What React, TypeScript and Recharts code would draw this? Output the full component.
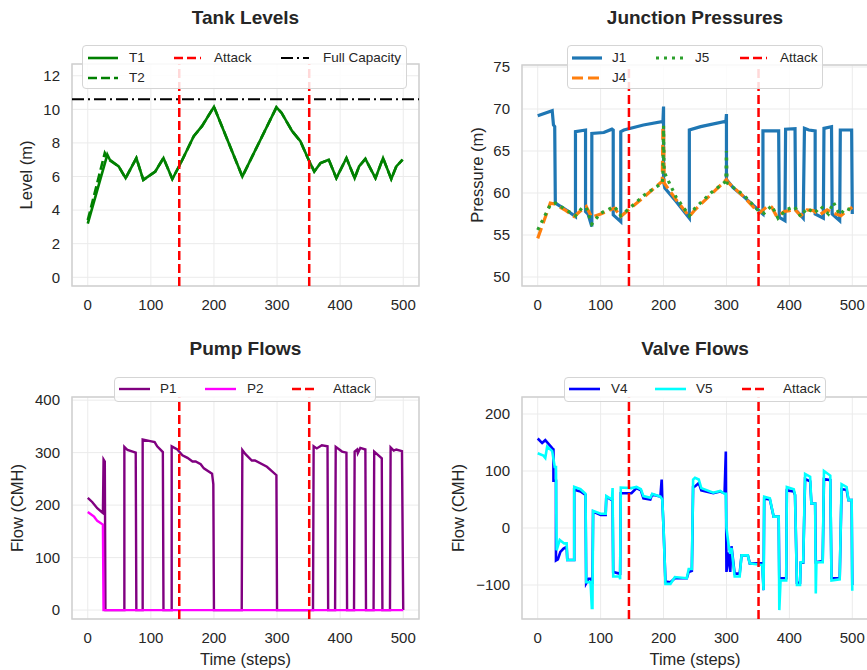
import React from "react";
import { LineChart, Line, XAxis, YAxis, CartesianGrid, ReferenceLine, ReferenceArea } from "recharts";

// time axis
const timeTicks = [0, 100, 200, 300, 400, 500];
const attackStart = 145;
const attackEnd = 351;
const fullCapacity = 10.6;

// tank levels [step, m]
const tankT1 = [
  [0, 3.2], [31, 7.3], [35, 7.0], [49, 6.6], [60, 5.9], [77, 7.1], [88, 5.8], [107, 6.3], [120, 7.1],
  [134, 5.85], [146, 6.7], [168, 8.4], [181, 9.0], [200, 10.15], [245, 6.0], [299, 10.12], [307, 9.8],
  [324, 8.7], [337, 8.1], [350, 7.0], [359, 6.3], [369, 6.8], [382, 7.0], [394, 5.9], [410, 7.1],
  [423, 5.9], [430, 6.6], [440, 7.05], [456, 5.9], [468, 7.1], [481, 5.85], [489, 6.6], [499, 7.0],
];
const tankT2 = [
  [0, 3.4], [27, 7.4], [33, 7.0], [49, 6.6], [60, 5.9], [77, 7.1], [88, 5.8], [107, 6.3], [120, 7.1],
  [134, 5.85], [146, 6.7], [168, 8.4], [181, 9.0], [200, 10.15], [245, 6.0], [299, 10.12], [307, 9.8],
  [324, 8.7], [337, 8.1], [350, 7.0], [359, 6.3], [369, 6.8], [382, 7.0], [394, 5.9], [410, 7.1],
  [423, 5.9], [430, 6.6], [440, 7.05], [456, 5.9], [468, 7.1], [481, 5.85], [489, 6.6], [499, 7.0],
];
const tankTicks = [0, 2, 4, 6, 8, 10, 12];

// junction pressures [step, m]
const juncJ1 = [
  [0, 69.2], [23, 69.8], [25, 68.1], [27, 67.9], [28, 58.8], [45, 58.0], [60, 57.2], [60, 67.3], [76, 67.5],
  [76, 57.8], [80, 57.5], [86, 56.0], [86, 67.1], [105, 67.2], [118, 67.6], [120, 67.5], [120, 57.4],
  [132, 56.6], [132, 67.3], [137, 67.5], [168, 68.1], [197, 68.5], [199, 68.4], [200, 70.3], [200, 61.4],
  [202, 60.6], [220, 59.0], [241, 57.0], [241, 67.5], [259, 67.9], [296, 68.5], [299, 68.4], [300, 69.4],
  [300, 61.6], [311, 60.6], [327, 59.6], [358, 57.5], [358, 67.4], [383, 67.4], [384, 57.1], [393, 56.7],
  [394, 67.6], [409, 67.65], [410, 58.0], [422, 57.0], [424, 67.7], [431, 67.5], [441, 67.4], [441, 57.5],
  [454, 57.0], [455, 67.7], [467, 67.9], [468, 57.5], [480, 56.7], [481, 67.5], [499, 67.5], [500, 57.5],
];
const juncJ4 = [
  [0, 54.6], [20, 58.8], [27, 58.7], [45, 57.9], [58, 57.2], [70, 58.0], [77, 58.4], [86, 57.1], [100, 57.5],
  [122, 58.2], [132, 57.2], [146, 58.1], [170, 59.6], [198, 61.4], [199, 67.8], [200, 67.8], [201, 61.2],
  [220, 59.2], [241, 57.2], [250, 58.0], [275, 59.8], [300, 61.6], [302, 61.3], [327, 59.6], [352, 57.6],
  [365, 58.4], [372, 58.3], [380, 57.2], [392, 57.8], [400, 57.9], [408, 58.1], [418, 57.3], [428, 58.0],
  [438, 57.9], [448, 57.4], [460, 58.0], [470, 57.6], [482, 57.3], [490, 57.8], [500, 58.3],
];
const juncJ5 = [
  [0, 55.6], [20, 58.6], [28, 58.8], [45, 58.0], [60, 57.3], [70, 58.2], [77, 58.3], [86, 56.3], [100, 57.6],
  [122, 58.4], [132, 57.3], [146, 58.2], [170, 59.8], [198, 61.2], [199, 62.0], [200, 68.0], [201, 62.5],
  [220, 59.5], [241, 57.3], [250, 58.2], [275, 60.0], [299, 61.4], [300, 65.0], [301, 61.2], [327, 59.8],
  [352, 57.8], [360, 57.6], [372, 58.5], [382, 57.0], [395, 58.0], [408, 58.4], [418, 57.2], [428, 58.2],
  [440, 57.6], [450, 58.4], [462, 57.5], [470, 58.9], [480, 57.4], [490, 58.2], [500, 57.9],
];
const pressureTicks = [50, 55, 60, 65, 70, 75];

// pump flows [step, CMH]
const pumpP1 = [
  [0, 214], [7, 206], [15, 194], [23, 186], [24, 185], [25, 287], [27, 283], [28, 0], [58, 0], [58, 311],
  [63, 305], [76, 300], [77, 0], [87, 0], [87, 325], [99, 322], [106, 320], [110, 312], [119, 301], [120, 0],
  [133, 0], [133, 312], [142, 306], [150, 295], [158, 290], [166, 283], [171, 283], [179, 278], [184, 270],
  [197, 260], [199, 240], [200, 0], [244, 0], [245, 305], [250, 297], [260, 285], [265, 285], [284, 273],
  [299, 257], [300, 0], [357, 0], [358, 312], [363, 308], [371, 314], [380, 312], [381, 0], [392, 0],
  [393, 311], [403, 302], [410, 300], [411, 0], [422, 0], [423, 302], [427, 306], [428, 299], [432, 309],
  [440, 306], [441, 0], [453, 0], [454, 302], [466, 289], [467, 0], [479, 0], [480, 310], [485, 304],
  [489, 306], [498, 303], [500, 0],
];
const pumpP2 = [[0, 187], [10, 178], [15, 170], [24, 163], [25, 0], [500, 0]];
const pumpTicks = [0, 100, 200, 300, 400];

// valve flows [step, CMH]
const valveV4 = [
  [0, 157], [7, 149], [12, 154], [23, 140], [25, 138], [25, 83], [29, 83], [29, -57], [32, -55], [36, -42],
  [41, -36], [46, -33], [47, -56], [58, -56], [58, 67], [68, 64], [76, 58], [77, -97], [81, -89], [85, -89],
  [86, -96], [87, -96], [88, 29], [100, 23], [108, 23], [109, 55], [118, 49], [119, 49], [120, -77], [130, -80],
  [131, -80], [132, 61], [149, 61], [157, 70], [164, 66], [168, 52], [179, 50], [182, 59], [195, 55], [197, 85],
  [198, 50], [200, 0], [203, -94], [211, -95], [218, -88], [237, -88], [240, -77], [245, -75], [247, 72],
  [250, 73], [256, 79], [260, 66], [279, 61], [290, 64], [297, 61], [299, 134], [300, -77], [304, -43],
  [306, -77], [308, -32], [313, -80], [321, -80], [324, -48], [334, -48], [337, -62], [357, -62], [359, -109],
  [360, 52], [369, 50], [375, 20], [383, 20], [384, -88], [395, -88], [396, 66], [407, 64], [409, 58],
  [412, -96], [417, -96], [418, -61], [422, -61], [425, 86], [433, 82], [435, 43], [441, 43], [442, -60],
  [453, -58], [455, 86], [465, 84], [467, -88], [480, -88], [483, 68], [491, 67], [494, 49], [499, 49], [500, -100],
];
const valveV5 = [
  [0, 131], [9, 127], [12, 123], [15, 143], [23, 135], [27, 107], [29, 107], [30, -39], [35, -21], [42, -27],
  [46, -27], [47, -56], [58, -56], [58, 72], [68, 68], [76, 60], [77, -95], [84, -95], [86, -140], [87, -140],
  [88, 30], [100, 25], [108, 25], [109, 56], [118, 50], [119, 70], [120, -85], [130, -85], [131, -90],
  [132, 71], [149, 70], [157, 72], [164, 68], [168, 56], [179, 53], [182, 60], [195, 55], [198, 50], [200, 0],
  [203, -98], [211, -98], [218, -86], [237, -88], [240, -72], [245, -72], [247, 85], [250, 88], [256, 85],
  [260, 70], [279, 62], [290, 65], [297, 60], [299, 60], [300, 0], [304, -35], [306, -45], [308, -35],
  [313, -85], [321, -85], [324, -48], [334, -48], [337, -62], [357, -65], [359, -109], [360, 55], [369, 52],
  [375, 20], [383, 20], [384, -144], [386, -92], [395, -92], [396, 72], [407, 68], [409, 58], [412, -100],
  [417, -100], [418, -60], [422, -60], [425, 95], [433, 90], [435, 43], [441, 43], [442, -115], [443, -60],
  [453, -60], [455, 100], [465, 92], [467, -92], [480, -90], [483, 77], [491, 72], [494, 49], [499, 49], [500, -110],
];
const valveTicks = [-100, 0, 100, 200];

const toPts = (arr: number[][]) => arr.map(([t, v]) => ({ t, v }));

const FONT = "'Liberation Sans', Arial, sans-serif";
const TEXT = "#262626";
const GRID = "#ebebeb";
const FRAME = "#cfcfcf";
const tickStyle = { fontSize: 15, fill: TEXT, fontFamily: FONT };
const fmt = (v: number) => (v < 0 ? `\u2212${Math.abs(v)}` : `${v}`);

type SeriesDef = { name: string; data: number[][]; color: string; width: number; dash?: string };

function Panel({
  left, top, width, height, plotTop, plotLeft, plotRight, plotBottom, yDomain, yTicks, series, refY,
}: {
  left: number; top: number; width: number; height: number;
  plotTop: number; plotLeft: number; plotRight: number; plotBottom: number;
  yDomain: [number, number]; yTicks: number[]; series: SeriesDef[]; refY?: number;
}) {
  return (
    <div style={{ position: "absolute", left, top }}>
      <LineChart
        width={width}
        height={height}
        margin={{ top: plotTop, right: width - plotRight, left: 0, bottom: 0 }}
      >
        <CartesianGrid stroke={GRID} strokeWidth={1} />
        <XAxis
          dataKey="t"
          type="number"
          domain={[-25, 525]}
          ticks={timeTicks}
          allowDataOverflow
          height={height - plotBottom}
          tick={tickStyle}
          tickSize={0}
          tickMargin={13}
          axisLine={false}
          tickLine={false}
        />
        <YAxis
          type="number"
          domain={yDomain}
          ticks={yTicks}
          allowDataOverflow
          width={plotLeft}
          tick={tickStyle}
          tickSize={0}
          tickMargin={12}
          tickFormatter={fmt}
          axisLine={false}
          tickLine={false}
        />
        <ReferenceArea
          x1={-25}
          x2={525}
          y1={yDomain[0]}
          y2={yDomain[1]}
          fill="none"
          stroke={FRAME}
          strokeWidth={1.5}
          ifOverflow="visible"
        />
        {series.map((s) => (
          <Line
            key={s.name}
            data={toPts(s.data)}
            dataKey="v"
            name={s.name}
            type="linear"
            stroke={s.color}
            strokeWidth={s.width}
            strokeDasharray={s.dash}
            dot={false}
            activeDot={false}
            isAnimationActive={false}
          />
        ))}
        {refY !== undefined && (
          <ReferenceLine y={refY} stroke="#000" strokeWidth={2} strokeDasharray="12 4 2 4" />
        )}
        <ReferenceLine x={attackStart} stroke="#ff0000" strokeWidth={2.5} strokeDasharray="9 4" />
        <ReferenceLine x={attackEnd} stroke="#ff0000" strokeWidth={2.5} strokeDasharray="9 4" />
      </LineChart>
    </div>
  );
}

type LegendItem = { label: string; color: string; dash?: string; width: number; x: number; y: number; tx: number; len?: number };

function LegendBox({ left, top, width, height, items }: { left: number; top: number; width: number; height: number; items: LegendItem[] }) {
  return (
    <div
      style={{
        position: "absolute", left, top, width, height, boxSizing: "border-box",
        border: "1px solid #d5d5d5", borderRadius: 4, background: "rgba(255,255,255,0.85)",
      }}
    >
      {items.map((it) => (
        <React.Fragment key={it.label}>
          <svg style={{ position: "absolute", left: it.x, top: it.y - 4 }} width={it.len ?? 30} height={8}>
            <line x1={0} y1={4} x2={it.len ?? 30} y2={4} stroke={it.color} strokeWidth={it.width} strokeDasharray={it.dash} />
          </svg>
          <span
            style={{
              position: "absolute", left: it.tx, top: it.y - 8, lineHeight: "16px", fontSize: 13.5,
              color: TEXT, fontFamily: FONT, whiteSpace: "nowrap",
            }}
          >
            {it.label}
          </span>
        </React.Fragment>
      ))}
    </div>
  );
}

function Title({ text, cx, cy }: { text: string; cx: number; cy: number }) {
  return (
    <div
      style={{
        position: "absolute", left: cx, top: cy, transform: "translate(-50%, -50%)", fontSize: 19,
        fontWeight: "bold", lineHeight: 1, color: TEXT, fontFamily: FONT, whiteSpace: "nowrap",
      }}
    >
      {text}
    </div>
  );
}

function AxisLabel({ text, cx, cy, rotate }: { text: string; cx: number; cy: number; rotate?: boolean }) {
  return (
    <div
      style={{
        position: "absolute", left: cx, top: cy,
        transform: `translate(-50%, -50%)${rotate ? " rotate(-90deg)" : ""}`,
        fontSize: 16.5, lineHeight: 1, color: TEXT, fontFamily: FONT, whiteSpace: "nowrap",
      }}
    >
      {text}
    </div>
  );
}

export default function App() {
  return (
    <div
      style={{
        position: "fixed", left: 0, top: 0, width: 867, height: 670, overflow: "hidden",
        background: "#fff", fontFamily: FONT,
      }}
    >
      <Panel
        left={0} top={0} width={434} height={330}
        plotTop={64} plotLeft={72} plotRight={419} plotBottom={286}
        yDomain={[-0.52, 12.7]} yTicks={tankTicks} refY={fullCapacity}
        series={[
          { name: "T1", data: tankT1, color: "#008000", width: 2.6 },
          { name: "T2", data: tankT2, color: "#008000", width: 2.6, dash: "9 4" },
        ]}
      />
      <Panel
        left={434} top={0} width={450} height={330}
        plotTop={65} plotLeft={88} plotRight={434} plotBottom={286}
        yDomain={[48.93, 75.24]} yTicks={pressureTicks}
        series={[
          { name: "J1", data: juncJ1, color: "#1f77b4", width: 3.2 },
          { name: "J4", data: juncJ4, color: "#ff7f0e", width: 3.2, dash: "11 5" },
          { name: "J5", data: juncJ5, color: "#2ca02c", width: 3.2, dash: "3 5" },
        ]}
      />
      <Panel
        left={0} top={330} width={434} height={340}
        plotTop={67} plotLeft={72} plotRight={419} plotBottom={289}
        yDomain={[-17, 406]} yTicks={pumpTicks}
        series={[
          { name: "P1", data: pumpP1, color: "#800080", width: 2.4 },
          { name: "P2", data: pumpP2, color: "#ff00ff", width: 2.4 },
        ]}
      />
      <Panel
        left={434} top={330} width={450} height={340}
        plotTop={67} plotLeft={88} plotRight={434} plotBottom={289}
        yDomain={[-159.6, 229.8]} yTicks={valveTicks}
        series={[
          { name: "V4", data: valveV4, color: "#0000ff", width: 2.6 },
          { name: "V5", data: valveV5, color: "#00ffff", width: 2.6 },
        ]}
      />

      <Title text="Tank Levels" cx={245.5} cy={17} />
      <Title text="Junction Pressures" cx={695} cy={17} />
      <Title text="Pump Flows" cx={245.5} cy={348} />
      <Title text="Valve Flows" cx={695} cy={348} />

      <AxisLabel text="Level (m)" cx={26} cy={175} rotate />
      <AxisLabel text="Pressure (m)" cx={477} cy={175} rotate />
      <AxisLabel text="Flow (CMH)" cx={17} cy={508} rotate />
      <AxisLabel text="Flow (CMH)" cx={458} cy={508} rotate />
      <AxisLabel text="Time (steps)" cx={245.5} cy={659} />
      <AxisLabel text="Time (steps)" cx={695} cy={659} />

      <LegendBox
        left={82} top={45} width={325} height={44}
        items={[
          { label: "T1", color: "#008000", width: 2.6, x: 5, y: 12, tx: 46 },
          { label: "T2", color: "#008000", width: 2.6, dash: "9 4", x: 5, y: 32, tx: 46 },
          { label: "Attack", color: "#ff0000", width: 2.5, dash: "9 4", x: 91, y: 12, tx: 131, len: 27 },
          { label: "Full Capacity", color: "#000", width: 2, dash: "12 4 2 4", x: 198, y: 12, tx: 240, len: 28 },
        ]}
      />
      <LegendBox
        left={567} top={45} width={256} height={44}
        items={[
          { label: "J1", color: "#1f77b4", width: 3.2, x: 4, y: 12, tx: 44 },
          { label: "J4", color: "#ff7f0e", width: 3.2, dash: "11 5", x: 4, y: 32, tx: 44 },
          { label: "J5", color: "#2ca02c", width: 3.2, dash: "3 5", x: 88, y: 12, tx: 127, len: 29 },
          { label: "Attack", color: "#ff0000", width: 2.5, dash: "9 4", x: 172, y: 12, tx: 212, len: 27 },
        ]}
      />
      <LegendBox
        left={114} top={377} width={262} height={25}
        items={[
          { label: "P1", color: "#800080", width: 2.4, x: 4, y: 11, tx: 45, len: 31 },
          { label: "P2", color: "#ff00ff", width: 2.4, x: 90, y: 11, tx: 132, len: 31 },
          { label: "Attack", color: "#ff0000", width: 2.5, dash: "9 4", x: 177, y: 11, tx: 218, len: 26 },
        ]}
      />
      <LegendBox
        left={564} top={377} width={262} height={25}
        items={[
          { label: "V4", color: "#0000ff", width: 2.6, x: 4, y: 11, tx: 46, len: 31 },
          { label: "V5", color: "#00ffff", width: 2.6, x: 90, y: 11, tx: 131, len: 31 },
          { label: "Attack", color: "#ff0000", width: 2.5, dash: "9 4", x: 177, y: 11, tx: 218, len: 26 },
        ]}
      />
    </div>
  );
}
